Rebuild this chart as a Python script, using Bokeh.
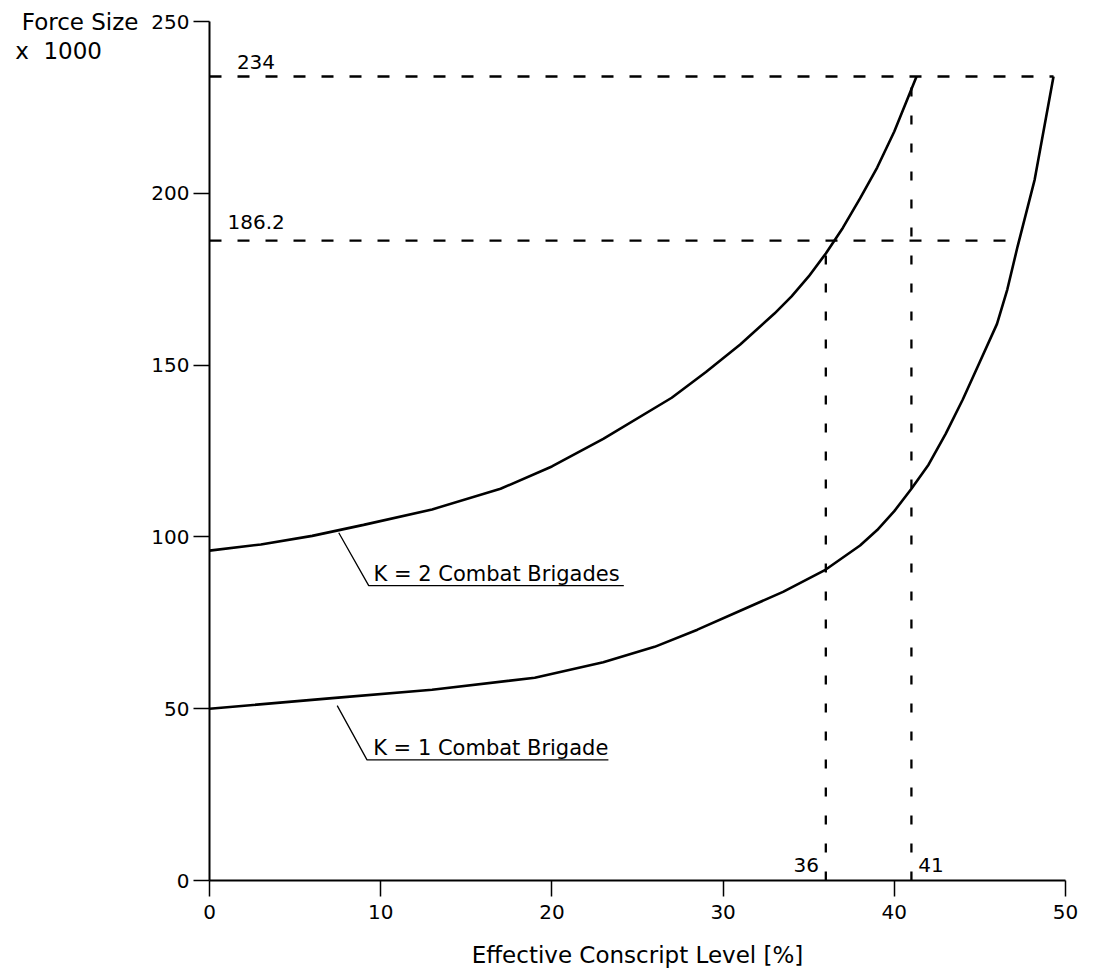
from bokeh.plotting import figure
from bokeh.models import Range1d, Label, FixedTicker, ColumnDataSource, LinearAxis
from bokeh.embed import file_html
from bokeh.resources import INLINE

# ---- data ----
k2_x = [0, 3, 6, 9, 13, 17, 20, 23, 27, 29, 31, 33, 34, 35, 36, 37, 38, 39, 40, 41.3]
k2_y = [96, 97.8, 100.3, 103.5, 108, 114, 120.5, 128.5, 140.5, 148, 156, 165, 170, 175.8,
        182.5, 190, 198.5, 207.5, 218, 234]

k1_x = [0, 7, 13, 19, 23, 26, 28.5, 31, 33.5, 36, 38, 39, 40, 41, 42, 43, 44, 45, 46,
        46.6, 47.2, 48.2, 49.3]
k1_y = [50, 53, 55.5, 59, 63.5, 68, 73, 78.5, 84, 90.5, 97.5, 102, 107.5, 114, 121, 130,
        140, 151, 162, 172, 184.5, 204, 234]

force_levels = [234, 186.2]          # horizontal reference lines
force_line_end = [49.3, 47.3]        # where they meet the K=1 curve
conscript_levels = [41, 36]          # vertical reference lines
conscript_line_top = [234, 186.2]

x_ticks = [0, 10, 20, 30, 40, 50]
y_ticks = [0, 50, 100, 150, 200, 250]

FONT = "DejaVu Sans"

p = figure(width=1095, height=977, x_range=Range1d(0, 50), y_range=Range1d(0, 250),
           output_backend="svg", toolbar_location=None,
           min_border_left=209, min_border_right=30, min_border_top=21, min_border_bottom=97)
p.outline_line_color = None
p.grid.visible = False
p.background_fill_color = "white"
p.border_fill_color = "white"

p.xaxis.ticker = FixedTicker(ticks=x_ticks)
p.yaxis.ticker = FixedTicker(ticks=y_ticks)
for ax in (p.xaxis, p.yaxis):
    ax.minor_tick_line_color = None
    ax.major_tick_in = 0
    ax.major_tick_out = 16
    ax.axis_line_width = 2
    ax.axis_line_color = "black"
    ax.major_tick_line_width = 1.5
    ax.major_tick_line_color = "black"
    ax.major_label_text_font = FONT
    ax.major_label_text_font_size = "20px"
    ax.major_label_text_color = "black"
p.xaxis.major_label_standoff = 8
p.yaxis.major_label_standoff = 4

p.xaxis.axis_label = "Effective Conscript Level [%]"
p.xaxis.axis_label_text_font = FONT
p.xaxis.axis_label_text_font_size = "23px"
p.xaxis.axis_label_text_font_style = "normal"
p.xaxis.axis_label_text_color = "black"
p.xaxis.axis_label_standoff = 20

# y-axis title ("Force Size / x 1000") written as labels of a bare outer axis
NB = "\u00a0"
title_axis = LinearAxis(
    ticker=FixedTicker(ticks=[250, 241.5]),
    major_label_overrides={250: "Force Size", 241.5: "x" + NB * 2 + "1000" + NB * 5},
    axis_line_color=None, major_tick_line_color=None, minor_tick_line_color=None,
    major_tick_in=0, major_tick_out=0, major_label_standoff=10,
    major_label_text_font=FONT, major_label_text_font_size="23px",
    major_label_text_color="black")
p.add_layout(title_axis, "left")

# reference dashed lines
hs = ColumnDataSource(dict(x0=[0] * len(force_levels), x1=force_line_end, y=force_levels))
p.segment(x0="x0", y0="y", x1="x1", y1="y", source=hs, line_color="black",
          line_width=2.3, line_dash="12 16")
vs = ColumnDataSource(dict(x=conscript_levels, y0=[0] * len(conscript_levels), y1=conscript_line_top))
p.segment(x0="x", y0="y0", x1="x", y1="y1", source=vs, line_color="black",
          line_width=2.3, line_dash="9 19")

# curves
p.line(k2_x, k2_y, line_color="black", line_width=2.6)
p.line(k1_x, k1_y, line_color="black", line_width=2.6)

# leader lines for curve labels
p.line([7.55, 9.3, 24.2], [101.2, 85.8, 85.8], line_color="black", line_width=1.3)
p.line([7.46, 9.2, 23.3], [50.9, 35.1, 35.1], line_color="black", line_width=1.3)

def lab(x, y, text, size="20px", align="left"):
    p.add_layout(Label(x=x, y=y, text=text, text_font=FONT, text_font_size=size,
                       text_color="black", text_align=align, text_baseline="middle"))

lab(9.58, 89.3, "K = 2 Combat Brigades", "21px")
lab(9.56, 38.5, "K = 1 Combat Brigade", "21px")
lab(1.6, 238.2, "234")
lab(1.05, 191.7, "186.2")
lab(35.6, 4.5, "36", align="right")
lab(41.4, 4.5, "41")

open("out.html", "w").write(file_html(p, INLINE))
